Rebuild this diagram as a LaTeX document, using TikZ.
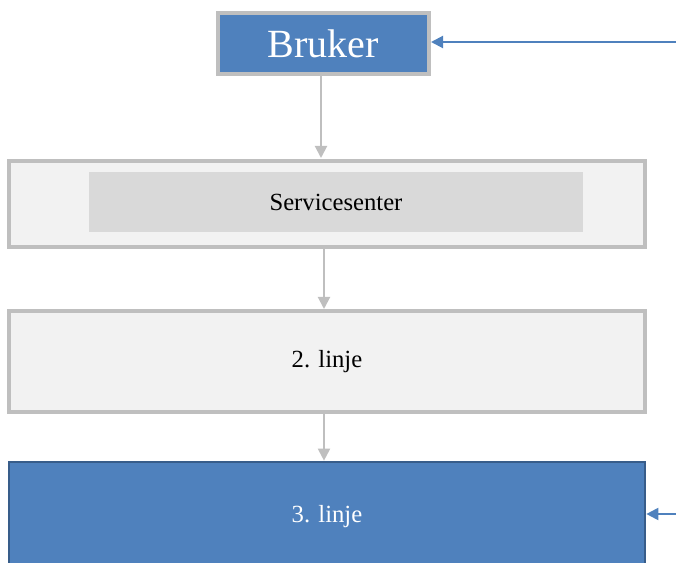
\documentclass[tikz,border=0pt]{standalone}
\usepackage{fontspec}
\setmainfont{Liberation Serif}
\usetikzlibrary{arrows.meta}
\definecolor{accblue}{HTML}{4F81BD}
\definecolor{darkblue}{HTML}{385D8A}
\definecolor{bordergrey}{HTML}{BFBFBF}
\definecolor{lightfill}{HTML}{F2F2F2}
\definecolor{innerfill}{HTML}{D9D9D9}
\tikzset{
  bluebox/.style={rectangle, fill=accblue, text=white, inner sep=0pt},
  greybox/.style={rectangle, fill=lightfill, draw=bordergrey, line width=3pt, inner sep=0pt},
  innerbox/.style={rectangle, fill=innerfill, inner sep=0pt},
  greyarrow/.style={draw=bordergrey, line width=1.5pt, -{Triangle[length=9pt,width=9pt]}},
  bluearrow/.style={draw=accblue, line width=1.5pt, -{Triangle[length=9pt,width=9pt]}},
  bodytext/.style={font=\fontsize{18.5pt}{20pt}\selectfont}
}
\begin{document}
\begin{tikzpicture}[x=0.75pt,y=-0.75pt]
\useasboundingbox (0,0) rectangle (676,563);
% Bruker
\node[bluebox, draw=bordergrey, line width=3pt, minimum width=211*0.75pt, minimum height=61*0.75pt,
  font=\fontsize{30pt}{32pt}\selectfont] (bruker) at (323.5,43.5) {Bruker};
% Servicesenter
\node[greybox, minimum width=636*0.75pt, minimum height=86*0.75pt] (service) at (327,204) {};
\node[innerbox, minimum width=494*0.75pt, minimum height=60*0.75pt, bodytext] (serviceinner) at (336,202) {Servicesenter};
% 2. linje
\node[greybox, minimum width=636*0.75pt, minimum height=101*0.75pt, bodytext] (linje2) at (327,361.5) {2. linje};
% 3. linje
\node[bluebox, draw=darkblue, line width=2pt, minimum width=636*0.75pt, minimum height=110*0.75pt, bodytext] (linje3) at (327,517) {3. linje};
% connectors
\coordinate (bstart) at (321,76);
\coordinate (bend) at (321,158);
\draw[greyarrow] (bstart) -- (bend);
\draw[greyarrow] (service.south -| 324,0) -- (linje2.north -| 324,0);
\draw[greyarrow] (linje2.south -| 324,0) -- (linje3.north -| 324,0);
% side arrows
\coordinate (rin1) at (676,42);
\coordinate (rin3) at (676,514);
\draw[bluearrow] (rin1) -- (bruker.east |- rin1);
\draw[bluearrow] (rin3) -- (linje3.east |- rin3);
\end{tikzpicture}
\end{document}
